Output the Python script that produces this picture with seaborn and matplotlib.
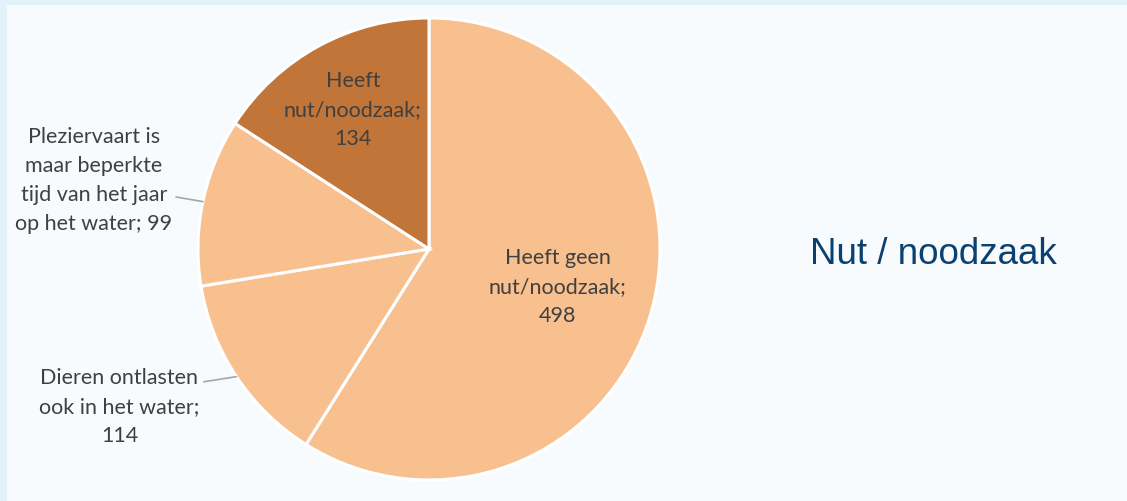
import numpy as np
import matplotlib
matplotlib.use("Agg")
import matplotlib.pyplot as plt
import seaborn as sns
from matplotlib.patches import Rectangle

# data (clockwise from 12 o'clock)
labels = ["Heeft geen\nnut/noodzaak;\n498",
          "Dieren ontlasten\nook in het water;\n114",
          "Pleziervaart is\nmaar beperkte\ntijd van het jaar\nop het water; 99",
          "Heeft\nnut/noodzaak;\n134"]
values = [498, 114, 99, 134]
title = "Nut / noodzaak"

light = "#F9C08F"
dark = "#C27538"
colors = [light, light, light, dark]

sns.set_theme(style="white")
plt.rcParams["font.family"] = ["Lato", "DejaVu Sans"]

fig = plt.figure(figsize=(11.27, 5.02), dpi=100, facecolor="#E2F1FA")
# inner slide panel
fig.patches.append(Rectangle((7 / 1127, 0), 1, 1 - 6 / 502, transform=fig.transFigure,
                             facecolor="#F7FBFE", edgecolor="none", zorder=-5))

ax = fig.add_axes([0, 0, 858 / 1127, 1])
ax.set_facecolor("none")
ax.set_zorder(2)
wedges, _ = ax.pie(values, colors=colors, startangle=90, counterclock=False,
                   wedgeprops=dict(edgecolor="white", linewidth=2.2))
ax.set_xlim(-1.857, 1.857)
ax.set_ylim(-1.091, 1.082)
ax.axis("off")

txt = dict(color="#404040", fontsize=15.5, ha="center", va="center", linespacing=1.55)

# inside labels
for i, r in [(0, 0.58), (3, 0.69)]:
    w = wedges[i]
    mid = np.deg2rad((w.theta1 + w.theta2) / 2)
    ax.text(r * np.cos(mid), r * np.sin(mid), labels[i], **txt)

# outside labels with leader lines
for i, (tx, ty), (lx, ly) in [(2, (-1.45, 0.30), (-1.095, 0.225)),
                              (1, (-1.34, -0.68), (-0.975, -0.575))]:
    w = wedges[i]
    mid = np.deg2rad((w.theta1 + w.theta2) / 2)
    ex, ey = np.cos(mid), np.sin(mid)
    ax.text(tx, ty, labels[i], **txt)
    ax.annotate("", xy=(ex, ey), xytext=(lx, ly),
                arrowprops=dict(arrowstyle="-", color="#A6A6A6", lw=1.2,
                                shrinkA=0, shrinkB=0))

fig.text(810 / 1127, 1 - 254 / 502, title, ha="left", va="center",
         fontsize=26.5, color="#0B4170", family=["Liberation Sans", "DejaVu Sans"])

fig.savefig("out.png", dpi=100, facecolor=fig.get_facecolor())
